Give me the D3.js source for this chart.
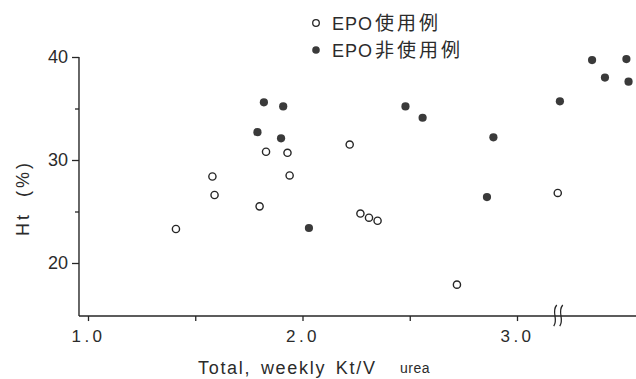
<!DOCTYPE html>
<html>
<head>
  <meta charset='utf-8'>
  <script src="https://d3js.org/d3.v7.min.js"></script>
  <style>
    body { margin: 0; background: #fff; }
    text { fill: #2b2b2b; font-family: 'Liberation Sans', 'Noto Sans CJK JP', sans-serif; }
  </style>
</head>
<body>
  <script type='text/javascript'>
    // EPO users (open circles) : Kt/V, Ht
    var epoKtv = [1.41, 1.58, 1.59, 1.80, 1.83, 1.93, 1.94, 2.22, 2.27, 2.31, 2.35, 2.72, 3.19];
    var epoHt  = [23.3, 28.4, 26.6, 25.5, 30.8, 30.7, 28.5, 31.5, 24.8, 24.4, 24.1, 17.9, 26.8];
    // non-EPO (filled circles)
    var nonKtv = [1.82, 1.91, 1.79, 1.90, 2.03, 2.48, 2.56, 2.86, 2.89, 3.20, 3.35, 3.51, 3.41, 3.52];
    var nonHt  = [35.6, 35.2, 32.7, 32.1, 23.4, 35.2, 34.1, 26.4, 32.2, 35.7, 39.7, 39.8, 38.0, 37.6];

    var xMajor = [1.0, 2.0, 3.0];
    var xMinor = [1.5, 2.5];
    var yMajor = [20, 30, 40];
    var yMinor = [25, 35];
    var legendLabels = ['使用例', '非使用例'];

    var svg = d3.select('body').append('svg')
      .attr('width', 636).attr('height', 379);

    var x = d3.scaleLinear().domain([1, 3]).range([88, 517]);
    var y = d3.scaleLinear().domain([20, 40]).range([263, 57]);
    var xLo = 0.958, xHi = 3.56, yLo = 14.85;

    var ink = '#262626';

    // axis lines
    svg.append('line')
      .attr('x1', x(xLo)).attr('x2', x(xLo))
      .attr('y1', y(40)).attr('y2', y(yLo))
      .attr('stroke', ink).attr('stroke-width', 1.4);
    svg.append('line')
      .attr('x1', x(xLo)).attr('x2', x(xHi))
      .attr('y1', y(yLo)).attr('y2', y(yLo))
      .attr('stroke', ink).attr('stroke-width', 1.4);

    // y axis ticks + labels
    var yAxis = d3.axisLeft(y).tickValues(yMajor).tickSize(7).tickPadding(4)
      .tickFormat(d3.format('d'));
    var gy = svg.append('g').attr('transform', 'translate(' + x(xLo) + ',0)').call(yAxis);
    gy.select('.domain').remove();
    gy.selectAll('line').attr('stroke', ink).attr('stroke-width', 1.3);
    gy.selectAll('text').style('font-size', '18px').attr('fill', ink);

    var yAxisMinor = d3.axisLeft(y).tickValues(yMinor).tickSize(4).tickFormat('');
    var gym = svg.append('g').attr('transform', 'translate(' + x(xLo) + ',0)').call(yAxisMinor);
    gym.select('.domain').remove();
    gym.selectAll('line').attr('stroke', ink).attr('stroke-width', 1.3);

    // x axis ticks + labels
    var xAxis = d3.axisBottom(x).tickValues(xMajor).tickSize(5).tickPadding(9)
      .tickFormat(d3.format('.1f'));
    var gx = svg.append('g').attr('transform', 'translate(0,' + y(yLo) + ')').call(xAxis);
    gx.select('.domain').remove();
    gx.selectAll('line').attr('stroke', ink).attr('stroke-width', 1.3);
    gx.selectAll('text').style('font-size', '17px').style('letter-spacing', '3.5px').attr('fill', ink);

    var xAxisMinor = d3.axisBottom(x).tickValues(xMinor).tickSize(5).tickFormat('');
    var gxm = svg.append('g').attr('transform', 'translate(0,' + y(yLo) + ')').call(xAxisMinor);
    gxm.select('.domain').remove();
    gxm.selectAll('line').attr('stroke', ink).attr('stroke-width', 1.3);

    // axis break mark
    var bx = x(3.19), by = y(yLo);
    [-3, 3].forEach(function(dx) {
      svg.append('path')
        .attr('d', 'M' + (bx + dx + 2) + ',' + (by - 11) +
          ' C' + (bx + dx - 4) + ',' + (by - 4) + ' ' + (bx + dx + 4) + ',' + (by + 3) +
          ' ' + (bx + dx - 1) + ',' + (by + 10))
        .attr('fill', 'none').attr('stroke', ink).attr('stroke-width', 1.3);
    });

    // axis titles
    svg.append('text')
      .attr('x', 198).attr('y', 374)
      .style('font-size', '18px').style('letter-spacing', '1.7px').style('word-spacing', '3px')
      .text('Total, weekly Kt/V');
    svg.append('text')
      .attr('x', 400).attr('y', 373)
      .style('font-size', '14px').style('letter-spacing', '0.5px')
      .text('urea');
    svg.append('text')
      .attr('transform', 'translate(29,198) rotate(-90)')
      .attr('text-anchor', 'middle')
      .style('font-size', '18px').style('letter-spacing', '3px').style('word-spacing', '7px')
      .text('Ht (%)');

    // points
    svg.append('g').selectAll('circle')
      .data(d3.range(epoKtv.length))
      .join('circle')
      .attr('cx', function(i) { return x(epoKtv[i]); })
      .attr('cy', function(i) { return y(epoHt[i]); })
      .attr('r', 3.6)
      .attr('fill', '#fff').attr('stroke', ink).attr('stroke-width', 1.4);

    svg.append('g').selectAll('circle')
      .data(d3.range(nonKtv.length))
      .join('circle')
      .attr('cx', function(i) { return x(nonKtv[i]); })
      .attr('cy', function(i) { return y(nonHt[i]); })
      .attr('r', 4.1)
      .attr('fill', '#3a3a3a');

    // legend
    var leg = svg.append('g');
    legendLabels.forEach(function(lab, i) {
      var ly = 23 + i * 27;
      leg.append('circle')
        .attr('cx', 316).attr('cy', ly).attr('r', i === 0 ? 3.3 : 3.8)
        .attr('fill', i === 0 ? '#fff' : '#3a3a3a')
        .attr('stroke', i === 0 ? ink : 'none').attr('stroke-width', 1.3);
      var t = leg.append('text').attr('y', ly + 6.5);
      t.append('tspan').attr('x', 332)
        .style('font-size', '18px').style('letter-spacing', '1px')
        .text('EPO');
      t.append('tspan').attr('x', 375)
        .style('font-size', '19px').style('letter-spacing', '3px')
        .text(lab);
    });
  </script>
</body>
</html>
